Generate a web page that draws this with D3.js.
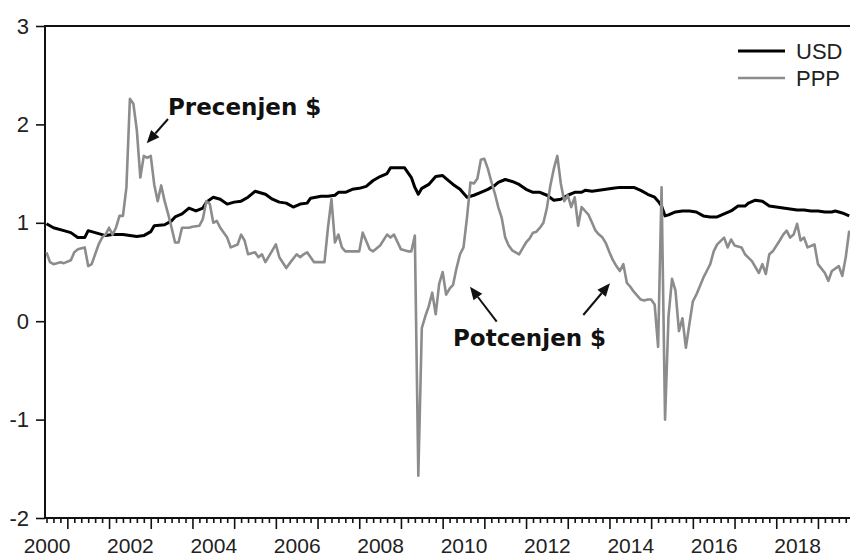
<!DOCTYPE html>
<html><head><meta charset="utf-8">
<script src="https://cdn.jsdelivr.net/npm/d3@7"></script>
<style>body{margin:0;background:#fff} svg{display:block}</style>
</head><body><svg id="c" width="850" height="557"></svg>
<script>
// ---- data (monthly) ----
const usdDates = ["2000-01","2000-03","2000-06","2000-08","2000-10","2000-12","2001-01","2001-04","2001-06","2001-08","2001-11",
"2002-01","2002-03","2002-05","2002-07","2002-08","2002-11","2003-01","2003-02","2003-04","2003-06","2003-08","2003-10","2003-11",
"2004-01","2004-03","2004-05","2004-07","2004-09","2004-11","2005-01","2005-02","2005-04","2005-06","2005-08","2005-10","2005-12",
"2006-02","2006-04","2006-05","2006-08","2006-10","2006-12","2007-01","2007-03","2007-05","2007-07","2007-09","2007-11",
"2008-01","2008-03","2008-04","2008-06","2008-08","2008-10","2008-11","2008-12","2009-01","2009-03","2009-05","2009-07","2009-08","2009-10","2009-12",
"2010-02","2010-04","2010-06","2010-08","2010-10","2010-11","2011-01","2011-03","2011-05","2011-07","2011-09","2011-11",
"2012-01","2012-03","2012-05","2012-07","2012-09","2012-11","2012-12","2013-02","2013-04","2013-06","2013-08","2013-10","2013-12",
"2014-02","2014-04","2014-06","2014-08","2014-09","2014-10","2014-11","2014-12","2015-02","2015-04","2015-06","2015-08","2015-10","2015-12",
"2016-02","2016-04","2016-06","2016-08","2016-10","2016-11","2017-01","2017-03","2017-05","2017-07","2017-09","2017-11",
"2018-01","2018-03","2018-05","2018-07","2018-09","2018-11","2018-12","2019-02","2019-04"];
const usdValues = [0.99,0.95,0.92,0.90,0.85,0.85,0.92,0.89,0.87,0.88,0.88,
0.87,0.86,0.87,0.91,0.97,0.98,1.02,1.06,1.09,1.15,1.12,1.15,1.21,
1.26,1.24,1.19,1.21,1.22,1.26,1.32,1.31,1.29,1.24,1.21,1.20,1.16,
1.19,1.20,1.25,1.27,1.27,1.28,1.31,1.31,1.34,1.35,1.37,1.43,
1.47,1.50,1.56,1.56,1.56,1.46,1.36,1.29,1.35,1.39,1.47,1.48,1.45,1.39,1.34,
1.26,1.28,1.31,1.34,1.38,1.41,1.44,1.42,1.39,1.34,1.31,1.31,
1.28,1.23,1.24,1.28,1.31,1.31,1.33,1.32,1.33,1.34,1.35,1.36,1.36,
1.36,1.33,1.29,1.26,1.22,1.17,1.07,1.08,1.11,1.12,1.12,1.11,1.07,1.06,
1.06,1.09,1.12,1.17,1.17,1.20,1.23,1.22,1.17,1.16,1.15,1.14,
1.13,1.13,1.12,1.12,1.11,1.11,1.12,1.10,1.07];

const pppDates = ["2000-01","2000-02","2000-03","2000-05","2000-06","2000-08","2000-09","2000-10","2000-12",
"2001-01","2001-02","2001-03","2001-04","2001-05","2001-06","2001-07","2001-08","2001-09","2001-10","2001-11","2001-12",
"2002-01","2002-02","2002-03","2002-04","2002-05","2002-06","2002-07","2002-08","2002-09","2002-10","2002-11","2002-12",
"2003-01","2003-02","2003-03","2003-04","2003-06","2003-07","2003-09","2003-10","2003-11","2003-12",
"2004-01","2004-02","2004-03","2004-05","2004-06","2004-08","2004-09","2004-10","2004-11",
"2005-01","2005-02","2005-03","2005-04","2005-06","2005-07","2005-08","2005-10","2005-11",
"2006-01","2006-02","2006-03","2006-04","2006-05","2006-06","2006-08","2006-09","2006-10","2006-11","2006-12",
"2007-01","2007-02","2007-03","2007-05","2007-07","2007-08","2007-10","2007-11",
"2008-01","2008-03","2008-04","2008-05","2008-07","2008-09","2008-10","2008-11","2008-12",
"2009-01","2009-02","2009-03","2009-04","2009-05","2009-06","2009-07","2009-08","2009-09","2009-10","2009-11","2009-12",
"2010-01","2010-02","2010-03","2010-04","2010-05","2010-06","2010-07","2010-08","2010-09","2010-10","2010-11","2010-12",
"2011-01","2011-02","2011-03","2011-04","2011-05","2011-06","2011-07","2011-08","2011-09","2011-10","2011-11","2011-12",
"2012-01","2012-02","2012-03","2012-04","2012-05","2012-06","2012-07","2012-08","2012-09","2012-10","2012-11","2012-12",
"2013-01","2013-02","2013-03","2013-04","2013-05","2013-06","2013-07","2013-08","2013-09","2013-10","2013-11","2013-12",
"2014-01","2014-02","2014-03","2014-04","2014-05","2014-06","2014-07","2014-08","2014-09","2014-10","2014-11","2014-12",
"2015-01","2015-02","2015-03","2015-04","2015-05","2015-06","2015-07","2015-08","2015-10","2015-11","2015-12",
"2016-01","2016-02","2016-04","2016-05","2016-06","2016-07","2016-09","2016-10","2016-12",
"2017-02","2017-03","2017-04","2017-05","2017-06","2017-08","2017-09","2017-10","2017-11","2017-12",
"2018-01","2018-02","2018-03","2018-04","2018-06","2018-07","2018-09","2018-10","2018-11",
"2019-01","2019-02","2019-03","2019-04"];
const pppValues = [0.70,0.60,0.58,0.60,0.59,0.62,0.70,0.73,0.75,
0.56,0.58,0.68,0.78,0.85,0.88,0.95,0.88,0.95,1.07,1.07,1.36,
2.26,2.21,1.94,1.46,1.68,1.66,1.68,1.39,1.22,1.38,1.22,1.09,
0.95,0.80,0.80,0.95,0.95,0.96,0.97,1.04,1.22,1.19,
1.00,1.02,0.95,0.85,0.75,0.78,0.88,0.82,0.68,
0.70,0.65,0.68,0.60,0.72,0.78,0.65,0.54,0.59,
0.68,0.65,0.68,0.70,0.65,0.60,0.60,0.60,0.95,1.24,0.80,
0.88,0.75,0.71,0.71,0.71,0.90,0.73,0.71,
0.77,0.88,0.85,0.88,0.73,0.71,0.71,0.87,-1.57,
-0.07,0.05,0.15,0.29,0.07,0.38,0.50,0.27,0.33,0.37,0.54,0.68,
0.75,1.05,1.41,1.40,1.45,1.64,1.65,1.55,1.42,1.30,1.16,1.05,
0.85,0.77,0.72,0.70,0.68,0.74,0.80,0.84,0.90,0.91,0.95,1.00,
1.15,1.38,1.55,1.68,1.40,1.22,1.28,1.16,1.26,0.97,1.16,1.12,
1.08,1.00,0.92,0.88,0.85,0.79,0.70,0.62,0.56,0.51,0.58,0.39,
0.35,0.30,0.26,0.22,0.21,0.22,0.22,0.17,-0.26,1.36,-1.00,0.05,
0.43,0.31,-0.10,0.03,-0.27,-0.03,0.20,0.27,0.44,0.51,0.58,
0.71,0.78,0.85,0.75,0.83,0.77,0.75,0.68,0.61,
0.49,0.58,0.48,0.68,0.71,0.82,0.88,0.92,0.85,0.88,
0.99,0.82,0.85,0.75,0.78,0.58,0.49,0.41,0.51,
0.56,0.46,0.65,0.92];

const seriesNames = ["USD","PPP"];
const yTickValues = [-2,-1,0,1,2,3];
const xLabelYears = [2000,2002,2004,2006,2008,2010,2012,2014,2016,2018];
const noteTexts = ["Precenjen $","Potcenjen $"];
// annotation anchors in data units (decimal year, value)
const noteTextAt = [[2002.914,2.096],[2009.748,-0.252]];
const arrowFrom = [[2002.914,2.055],[2010.796,-0.005],[2012.873,0.063]];
const arrowTo   = [[2002.403,1.808],[2010.156,0.351],[2013.513,0.385]];

// ---- layout ----
const svg = d3.select("#c");
const L = 45, R = 850, T = 26, B = 518;
const toYear = s => { const p = s.split("-").map(Number); return p[0] + (p[1]-1)/12; };
const x = d3.scaleLinear().domain([2000 - 1.5/41.7, 2000 + 803.5/41.7]).range([L, R]);
const y = d3.scaleLinear().domain([-2, 3]).range([B, T]);
const FONT = "'Liberation Sans', Arial, sans-serif";
const plain = d => String(d);

svg.append("defs").append("clipPath").attr("id","clip")
  .append("rect").attr("x",L).attr("y",T).attr("width",R-L).attr("height",B-T);

// x ticks: minor every 2 months, long at mid-year
const minorT = [], majorT = [];
for (let k = 0; 2000 + k/6 <= 2019.27; k++) { const t = 2000 + k/6; (k % 6 === 3 ? majorT : minorT).push(t); }
svg.append("g").attr("transform",`translate(0,${B})`)
  .call(d3.axisBottom(x).tickValues(minorT).tickSize(5).tickFormat(""))
  .call(g => { g.select(".domain").remove(); g.selectAll("line").attr("stroke","#111").attr("stroke-width",1.6); });
svg.append("g").attr("transform",`translate(0,${B})`)
  .call(d3.axisBottom(x).tickValues(majorT).tickSize(11).tickFormat(""))
  .call(g => { g.select(".domain").remove(); g.selectAll("line").attr("stroke","#111").attr("stroke-width",1.6); });
svg.append("g").attr("transform",`translate(0,${B})`)
  .call(d3.axisBottom(x).tickValues(xLabelYears).tickSize(0).tickPadding(20).tickFormat(plain))
  .call(g => { g.select(".domain").remove();
    g.selectAll("text").attr("font-family",FONT).attr("font-size",21).attr("fill","#222"); });

// y axis
svg.append("g").attr("transform",`translate(${L},0)`)
  .call(d3.axisLeft(y).tickValues(yTickValues).tickSize(9).tickPadding(7).tickFormat(plain))
  .call(g => { g.select(".domain").remove();
    g.selectAll("line").attr("stroke","#111").attr("stroke-width",1.6);
    g.selectAll("text").attr("font-family",FONT).attr("font-size",22).attr("fill","#222"); });

// frame lines (left, top, bottom)
svg.append("path").attr("d",`M${R},${T}H${L}V${B}H${R}`).attr("fill","none")
  .attr("stroke","#111").attr("stroke-width",2);

// series
const usd = usdDates.map((d,i)=>({t:toYear(d), v:usdValues[i]}));
const ppp = pppDates.map((d,i)=>({t:toYear(d), v:pppValues[i]}));
const line = d3.line().x(d=>x(d.t)).y(d=>y(d.v));
const plot = svg.append("g").attr("clip-path","url(#clip)");
plot.append("path").datum(usd).attr("d",line).attr("fill","none")
  .attr("stroke","#000").attr("stroke-width",3).attr("stroke-linejoin","round");
plot.append("path").datum(ppp).attr("d",line).attr("fill","none")
  .attr("stroke","#8c8c8c").attr("stroke-width",2.6).attr("stroke-linejoin","round");

// legend
const legColors = ["#000","#8c8c8c"], legW = [3,2.6], legY = [51,78];
seriesNames.forEach((n,i)=>{
  svg.append("line").attr("x1",738).attr("x2",785).attr("y1",legY[i]).attr("y2",legY[i])
    .attr("stroke",legColors[i]).attr("stroke-width",legW[i]);
  svg.append("text").attr("x",796).attr("y",legY[i]).attr("dy","0.36em")
    .attr("font-family",FONT).attr("font-size",22).attr("fill","#222").text(n);
});

// annotations
noteTexts.forEach((t,i)=>{
  svg.append("text").attr("x",x(noteTextAt[i][0])).attr("y",y(noteTextAt[i][1]))
    .attr("font-family","'DejaVu Sans', Verdana, sans-serif").attr("font-weight","bold")
    .attr("font-size",23).attr("fill","#111").text(t);
});
arrowFrom.forEach((f,i)=>{
  const x1 = x(f[0]), y1 = y(f[1]), x2 = x(arrowTo[i][0]), y2 = y(arrowTo[i][1]);
  const a = Math.atan2(y2-y1, x2-x1), hl = 13, hw = 5.5;
  const bx = x2 - hl*Math.cos(a), by = y2 - hl*Math.sin(a);
  svg.append("line").attr("x1",x1).attr("y1",y1).attr("x2",bx).attr("y2",by)
    .attr("stroke","#111").attr("stroke-width",2);
  const pts = [[x2,y2],[bx + hw*Math.sin(a), by - hw*Math.cos(a)],[bx - hw*Math.sin(a), by + hw*Math.cos(a)]];
  svg.append("polygon").attr("points",pts.map(p=>p.join(",")).join(" ")).attr("fill","#111");
});
</script></body></html>
